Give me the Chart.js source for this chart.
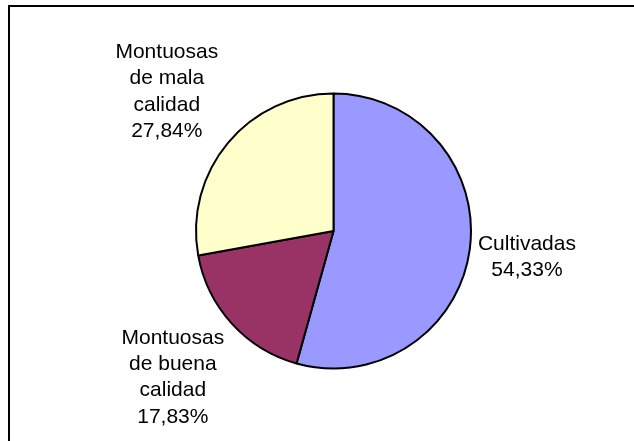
<!DOCTYPE html>
<html>
<head>
<meta charset="utf-8">
<script src="https://cdn.jsdelivr.net/npm/chart.js@4/dist/chart.umd.min.js"></script>
<style>
    html, body { margin: 0; padding: 0; background: #fff; }
    #wrap { width: 634px; height: 441px; position: relative; }
</style>
</head>
<body>
<div id="wrap"><canvas id="myChart"></canvas></div>
<script>
// Datos del grafico (porcentajes)
const categorias = [
    ["Cultivadas"],
    ["Montuosas", "de buena", "calidad"],
    ["Montuosas", "de mala", "calidad"]
];
const valores = [54.33, 17.83, 27.84];
const etiquetasPct = ["54,33%", "17,83%", "27,84%"];
const colores = ["#9999FF", "#993366", "#FFFFCC"];
// distancia de cada etiqueta al centro, en radios
const distEtiqueta = [1.42, 1.58, 1.58];

// Marco del area del grafico (solo se ven borde izquierdo y superior)
const marcoPlugin = {
    id: "marco",
    beforeDraw(chart) {
        const ctx = chart.ctx;
        ctx.save();
        ctx.strokeStyle = "#000";
        ctx.lineWidth = 2;
        ctx.beginPath();
        ctx.moveTo(9, chart.height);
        ctx.lineTo(9, 6);
        ctx.lineTo(chart.width, 6);
        ctx.stroke();
        ctx.restore();
    }
};

// Etiquetas fuera del pie, ubicadas segun el angulo medio de cada sector
const etiquetasPlugin = {
    id: "etiquetas",
    afterDatasetsDraw(chart) {
        const ctx = chart.ctx;
        const arcs = chart.getDatasetMeta(0).data;
        ctx.save();
        ctx.font = "21px 'Liberation Sans', Arial, sans-serif";
        ctx.fillStyle = "#000";
        ctx.textAlign = "center";
        ctx.textBaseline = "middle";
        const altoLinea = 26.3;
        arcs.forEach((arc, i) => {
            const p = arc.getProps(["x", "y", "startAngle", "endAngle", "outerRadius"], true);
            const medio = (p.startAngle + p.endAngle) / 2;
            const d = p.outerRadius * distEtiqueta[i];
            const cx = p.x + Math.cos(medio) * d;
            const cy = p.y + Math.sin(medio) * d;
            const lineas = categorias[i].concat([etiquetasPct[i]]);
            const y0 = cy - (lineas.length - 1) * altoLinea / 2;
            lineas.forEach((t, j) => ctx.fillText(t, cx, y0 + j * altoLinea));
        });
        ctx.restore();
    }
};

const ctx = document.getElementById("myChart");
new Chart(ctx, {
    type: "pie",
    data: {
        labels: categorias.map(c => c.join(" ")),
        datasets: [{
            data: valores,
            backgroundColor: colores,
            borderColor: "#000",
            borderWidth: 2
        }]
    },
    options: {
        responsive: true,
        maintainAspectRatio: false,
        animation: false,
        layout: {
            padding: { left: 195, right: 162, top: 92.5, bottom: 71.5 }
        },
        plugins: {
            legend: { display: false },
            tooltip: { enabled: false }
        }
    },
    plugins: [marcoPlugin, etiquetasPlugin]
});
</script>
</body>
</html>
